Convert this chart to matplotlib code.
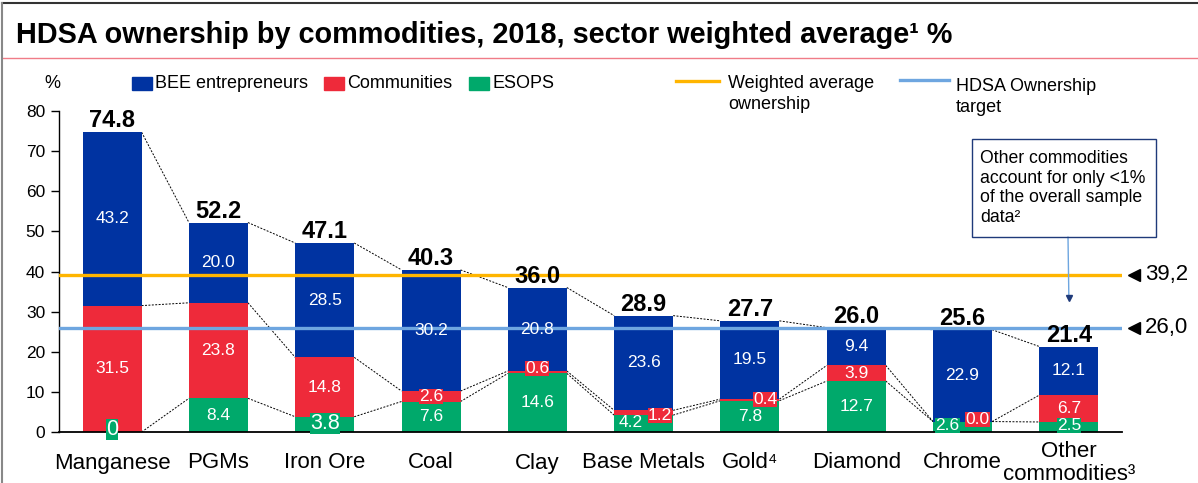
import matplotlib
matplotlib.use("Agg")
import matplotlib.pyplot as plt
import numpy as np
from matplotlib.patches import Rectangle
from matplotlib.lines import Line2D
import matplotlib.transforms as mtransforms

plt.rcParams['font.family'] = ['Liberation Sans', 'DejaVu Sans']

# ---------------- data ----------------
categories = ["Manganese", "PGMs", "Iron Ore", "Coal", "Clay", "Base Metals",
              "Gold\u2074", "Diamond", "Chrome", "Other\ncommodities\u00b3"]
esops = [0.0, 8.4, 3.8, 7.6, 14.6, 4.2, 7.8, 12.7, 2.6, 2.5]
communities = [31.5, 23.8, 14.8, 2.6, 0.6, 1.2, 0.4, 3.9, 0.0, 6.7]
bee = [43.2, 20.0, 28.5, 30.2, 20.8, 23.6, 19.5, 9.4, 22.9, 12.1]
totals = [74.8, 52.2, 47.1, 40.3, 36.0, 28.9, 27.7, 26.0, 25.6, 21.4]
esops_lbl = ["0", "8.4", "3.8", "7.6", "14.6", "4.2", "7.8", "12.7", "2.6", "2.5"]
comm_lbl = ["31.5", "23.8", "14.8", "2.6", "0.6", "1.2", "0.4", "3.9", "0.0", "6.7"]
bee_lbl = ["43.2", "20.0", "28.5", "30.2", "20.8", "23.6", "19.5", "9.4", "22.9", "12.1"]
weighted_avg = 39.2
target = 26.0
avg_text = "39,2"
target_text = "26,0"

title = "HDSA ownership by commodities, 2018, sector weighted average\u00b9 %"
legend_labels = ["BEE entrepreneurs", "Communities", "ESOPS",
                 "Weighted average\nownership", "HDSA Ownership\ntarget"]
note = "Other commodities\naccount for only <1%\nof the overall sample\ndata\u00b2"

# ---------------- style ----------------
C_BLUE = "#0033A1"
C_RED = "#EE2A3A"
C_GREEN = "#00A96B"
C_ORANGE = "#FFB500"
C_LBLUE = "#6EA6E0"
C_NAVY = "#1F3A7A"

W, H = 1198, 483
fig = plt.figure(figsize=(W / 100, H / 100), dpi=100)

def fx(px):
    return px / W

def fy(py):
    return 1 - py / H

ax = fig.add_axes([fx(59), fy(432), fx(1122) - fx(59), fy(111) - fy(432)])

x = np.arange(len(categories))
bw = 0.555
esops_a = np.array(esops)
comm_a = np.array(communities)
bee_a = np.array(bee)

ax.bar(x, esops_a, bw, color=C_GREEN, zorder=2)
ax.bar(x, comm_a, bw, bottom=esops_a, color=C_RED, zorder=2)
ax.bar(x, bee_a, bw, bottom=esops_a + comm_a, color=C_BLUE, zorder=2)

# connectors
levels = [esops_a, esops_a + comm_a, esops_a + comm_a + bee_a]
for lev in levels:
    for i in range(len(x) - 1):
        ax.plot([x[i] + bw / 2, x[i + 1] - bw / 2], [lev[i], lev[i + 1]],
                color="black", lw=0.7, dashes=(2, 1.5), zorder=1.5)

ax.axhline(weighted_avg, color=C_ORANGE, lw=2.4, zorder=3)
ax.axhline(target, color=C_LBLUE, lw=2.4, zorder=3)

ax.set_xlim(-0.5, len(x) - 0.5)
ax.set_ylim(0, 80)
ax.set_yticks(np.arange(0, 81, 10))
ax.tick_params(axis='y', labelsize=12.5, length=6, width=1, direction='out', pad=4)
ax.spines['top'].set_visible(False)
ax.spines['right'].set_visible(False)
ax.spines['left'].set_linewidth(1.0)
ax.spines['bottom'].set_linewidth(1.3)
ax.set_xticks(x)
ax.set_xticklabels([])
ax.tick_params(axis='x', length=0)

# category labels
for i, c in enumerate(categories):
    ax.annotate(c, xy=(x[i], 0), xycoords=('data', 'axes fraction'),
                xytext=(0, -31 * 0.72), textcoords='offset points',
                ha='center', va='center', fontsize=16, linespacing=1.12,
                annotation_clip=False)

# segment labels
fs = 12.5
def seg_label(i, y, s, color_box=None, dx=0, size=fs):
    kw = {}
    if color_box is not None:
        kw['bbox'] = dict(boxstyle='square,pad=0.0', fc=color_box, ec='none')
    ax.annotate(s, xy=(x[i], y), xytext=(dx * 0.72, 0), textcoords='offset points',
                ha='center', va='center', color='white', fontsize=size, zorder=5, **kw)

special = {
    # (segment, index): (y, dx_px, box, size)
    ('g', 0): (0.7, 0, True, 15.5),
    ('g', 2): (2.2, 0, True, 15.5),
    ('r', 3): (None, 0, True, fs),
    ('r', 4): (15.8, 0, True, fs),
    ('g', 5): (2.3, -13, True, fs),
    ('r', 5): (4.2, 16, True, fs),
    ('r', 6): (8.2, 15, True, fs),
    ('r', 7): (None, 0, True, fs),
    ('g', 8): (1.7, -15, True, fs),
    ('r', 8): (3.0, 15, True, fs),
    ('g', 9): (1.5, 0, True, fs),
}
for i in range(len(x)):
    for key, bottom, h, lbl, col in [('g', 0, esops_a[i], esops_lbl[i], C_GREEN),
                                     ('r', esops_a[i], comm_a[i], comm_lbl[i], C_RED),
                                     ('b', esops_a[i] + comm_a[i], bee_a[i], bee_lbl[i], C_BLUE)]:
        y = bottom + h / 2
        if (key, i) in special:
            sy, dx, box, size = special[(key, i)]
            if sy is not None:
                y = sy
            seg_label(i, y, lbl, col if box else None, dx, size)
        else:
            seg_label(i, y, lbl)

# totals
top = esops_a + comm_a + bee_a
for i in range(len(x)):
    ax.annotate(f"{totals[i]:.1f}", xy=(x[i], top[i]), xytext=(0, 5 * 0.72),
                textcoords='offset points', ha='center', va='baseline',
                fontsize=17, fontweight='bold', color='black', zorder=6)

# right-side value markers
trans = mtransforms.blended_transform_factory(ax.transAxes, ax.transData)
for val, txt in [(weighted_avg, avg_text), (target, target_text)]:
    ax.plot([(1134 - 59) / 1063], [val], marker='<', ms=9, color='black',
            transform=trans, clip_on=False, zorder=6)
    ax.text((1145 - 59) / 1063, val, txt, transform=trans, ha='left', va='center',
            fontsize=16, clip_on=False)

# "%" label
fig.text(fx(52), fy(83), "%", ha='center', va='center', fontsize=13)

# legend (manual)
sq = [(132, C_BLUE), (324, C_RED), (469, C_GREEN)]
for (px, col), lbl in zip(sq, legend_labels[:3]):
    fig.add_artist(Rectangle((fx(px), fy(90)), fx(20), fy(77) - fy(90),
                             transform=fig.transFigure, color=col))
    fig.text(fx(px + 23), fy(83), lbl, ha='left', va='center', fontsize=13)
fig.add_artist(Line2D([fx(676), fx(719)], [fy(81), fy(81)], color=C_ORANGE, lw=2.4,
                      transform=fig.transFigure))
fig.text(fx(728), fy(94), legend_labels[3], ha='left', va='center', fontsize=13,
         linespacing=1.25)
fig.add_artist(Line2D([fx(900), fx(949)], [fy(80), fy(80)], color=C_LBLUE, lw=2.4,
                      transform=fig.transFigure))
fig.text(fx(956), fy(97), legend_labels[4], ha='left', va='center', fontsize=13,
         linespacing=1.35)

# note box and arrow
fig.add_artist(Rectangle((fx(972), fy(237)), fx(1156) - fx(972), fy(139) - fy(237),
                         transform=fig.transFigure, fill=False, ec=C_NAVY, lw=1.0))
fig.text(fx(980), fy(188), note, ha='left', va='center', fontsize=12.7, linespacing=1.22)
ax.annotate("", xy=(x[-1], 33.6), xycoords='data',
            xytext=(fx(1068), fy(237)), textcoords='figure fraction',
            arrowprops=dict(arrowstyle='-', color=C_LBLUE, lw=1.0,
                            shrinkA=0, shrinkB=0),
            annotation_clip=False)
ax.plot([x[-1]], [33.4], marker='v', ms=5, color=C_NAVY, zorder=6, clip_on=False)

# title & frame
fig.text(fx(16), fy(43), title, ha='left', va='baseline', fontsize=20.8, fontweight='bold')
fig.add_artist(Line2D([fx(2), 1], [fy(57.5), fy(57.5)], color="#F07C88", lw=1.0,
                      transform=fig.transFigure))
fig.add_artist(Line2D([fx(1.5), 1], [fy(3), fy(3)], color="#333333", lw=1.5,
                      transform=fig.transFigure))
fig.add_artist(Line2D([fx(2), fx(2)], [fy(3), 0], color="#888888", lw=1.5,
                      transform=fig.transFigure))

fig.savefig("out.png", dpi=100)
